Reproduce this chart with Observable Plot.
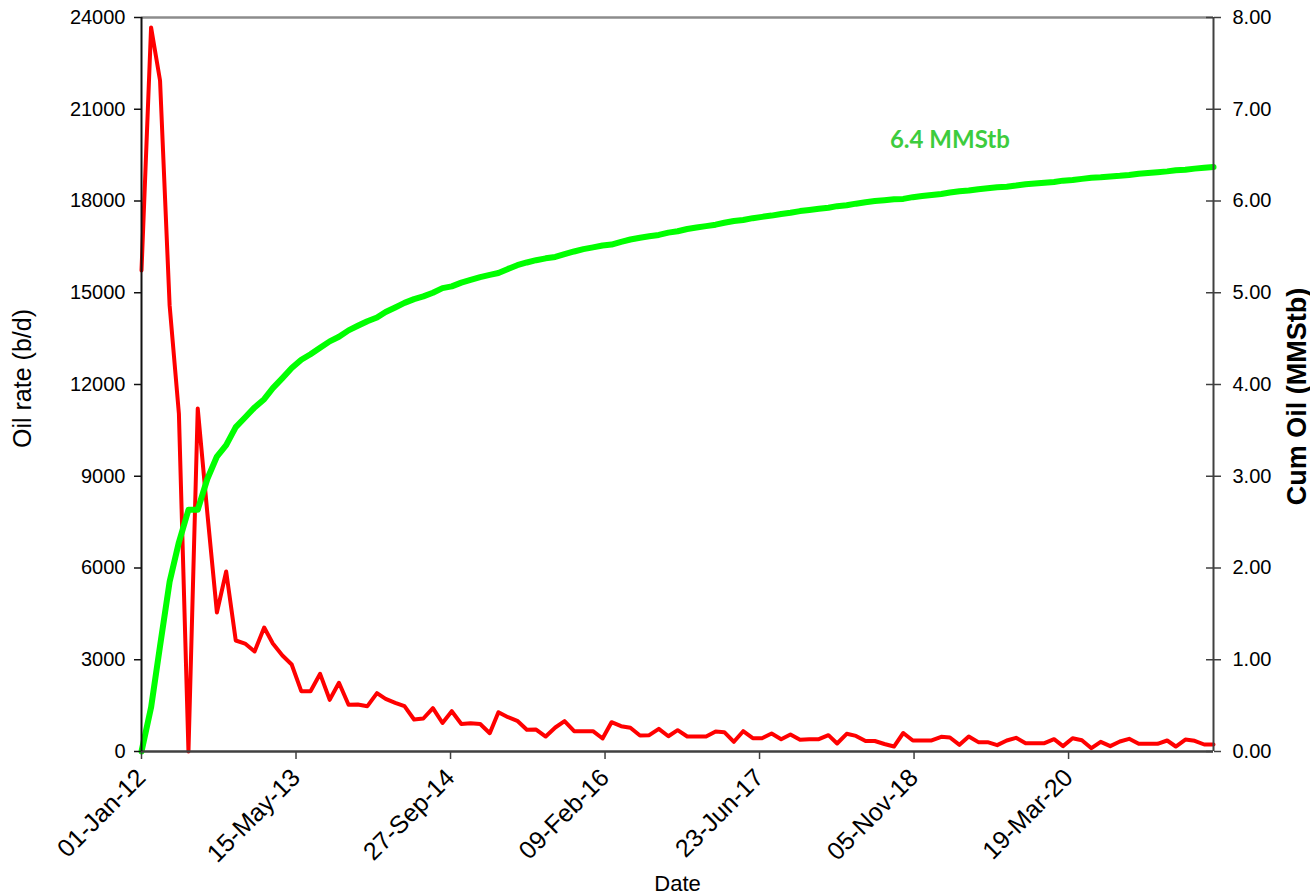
<!DOCTYPE html>
<html><head><meta charset="utf-8">
<script src="https://cdn.jsdelivr.net/npm/d3@7"></script>
<script src="https://cdn.jsdelivr.net/npm/@observablehq/plot@0.6"></script>
<style>body{margin:0;background:#fff}</style>
</head><body><div id="chart"></div>
<script>
// ---- data (monthly, starting Jan 2012) ----
const startDate = "2012-01-01";
const oilRate = [15730, 23675, 21940, 14585, 11050, 0, 11215, 7800, 4545, 5886,
  3630, 3530, 3270, 4055, 3530, 3140, 2845, 1972, 1972, 2540,
  1690, 2246, 1527, 1537, 1482, 1907, 1723, 1592, 1482, 1046,
  1079, 1416, 932, 1318, 899, 921, 899, 598, 1285, 1122,
  1004, 710, 719, 490, 785, 991, 664, 664, 664, 425,
  958, 828, 775, 523, 534, 742, 500, 697, 490, 490,
  490, 654, 631, 317, 664, 435, 435, 589, 402, 556,
  382, 402, 402, 534, 262, 578, 510, 343, 343, 245,
  163, 605, 360, 360, 360, 480, 458, 218, 490, 306,
  306, 207, 360, 448, 273, 273, 273, 402, 175, 435,
  370, 109, 317, 175, 327, 415, 251, 251, 251, 360,
  163, 392, 349, 229, 229];
const cumOil = [0, 0.48, 1.15, 1.85, 2.28, 2.635, 2.635, 2.97, 3.215, 3.34,
  3.535, 3.64, 3.75, 3.84, 3.96, 4.07, 4.18, 4.27, 4.33, 4.40,
  4.47, 4.52, 4.59, 4.64, 4.69, 4.73, 4.79, 4.84, 4.89, 4.93,
  4.96, 5.00, 5.05, 5.07, 5.11, 5.14, 5.17, 5.195, 5.215, 5.26,
  5.30, 5.33, 5.355, 5.375, 5.39, 5.42, 5.45, 5.475, 5.495, 5.515,
  5.525, 5.555, 5.58, 5.60, 5.615, 5.63, 5.655, 5.67, 5.695, 5.711,
  5.726, 5.742, 5.763, 5.782, 5.793, 5.813, 5.827, 5.841, 5.859, 5.872,
  5.890, 5.902, 5.915, 5.927, 5.944, 5.953, 5.971, 5.987, 5.999, 6.009,
  6.018, 6.023, 6.042, 6.054, 6.065, 6.077, 6.093, 6.107, 6.114, 6.129,
  6.139, 6.150, 6.156, 6.168, 6.183, 6.191, 6.200, 6.208, 6.222, 6.228,
  6.241, 6.254, 6.258, 6.268, 6.274, 6.284, 6.298, 6.306, 6.314, 6.323,
  6.335, 6.340, 6.353, 6.363, 6.371];
const xTickDates = ["2012-01-01","2013-05-15","2014-09-27","2016-02-09","2017-06-23","2018-11-05","2020-03-19"];
const xTickLabels = ["01-Jan-12","15-May-13","27-Sep-14","09-Feb-16","23-Jun-17","05-Nov-18","19-Mar-20"];
const rateTicks = [0, 3000, 6000, 9000, 12000, 15000, 18000, 21000, 24000];
const cumTicks = [0, 1, 2, 3, 4, 5, 6, 7, 8];
const annotation = [{text: "6.4 MMStb", date: "2019-03-01", cum: 6.66}];
const labelLeft = "Oil rate (b/d)";
const labelRight = "Cum Oil (MMStb)";
const labelX = "Date";

// ---- build ----
const K = rateTicks[rateTicks.length - 1] / cumTicks[cumTicks.length - 1]; // cum -> rate scale factor
const t0 = new Date(startDate);
const data = oilRate.map((r, i) => ({date: d3.utcMonth.offset(t0, i), rate: r, cum: cumOil[i]}));
const tickMap = new Map(xTickDates.map((d, i) => [+new Date(d), xTickLabels[i]]));

const W = 1310, H = 896, mL = 141, mR = 97, mT = 17, mB = 145;
const innerW = W - mL - mR;
const font = "'Liberation Sans', Arial, sans-serif";

const chart = Plot.plot({
  width: W, height: H,
  marginLeft: mL, marginRight: mR, marginTop: mT, marginBottom: mB,
  style: {fontFamily: font, fontSize: "20px", color: "#000", background: "#fff", overflow: "visible"},
  x: {type: "utc", domain: [data[0].date, data[data.length - 1].date]},
  y: {domain: [rateTicks[0], rateTicks[rateTicks.length - 1]]},
  marks: [
    Plot.ruleY([rateTicks[rateTicks.length - 1]], {stroke: "#8c8c8c", strokeWidth: 2.5}),
    Plot.lineY(data, {x: "date", y: "rate", stroke: "#ff0000", strokeWidth: 4, strokeLinejoin: "round"}),
    Plot.lineY(data, {x: "date", y: d => d.cum * K, stroke: "#00ff00", strokeWidth: 6, strokeLinejoin: "round"}),
    Plot.ruleY([0], {stroke: "#404040", strokeWidth: 2.5}),
    Plot.ruleX([data[0].date], {stroke: "#111", strokeWidth: 2}),
    Plot.ruleX([data[data.length - 1].date], {stroke: "#404040", strokeWidth: 2}),
    Plot.axisY(rateTicks, {anchor: "left", tickSize: 7, tickPadding: 9, tickFormat: d => String(d), label: null, stroke: "#111", strokeWidth: 1.5, fontSize: 20}),
    Plot.axisY(cumTicks.map(v => v * K), {anchor: "right", tickSize: 7, tickPadding: 12, tickFormat: d => (d / K).toFixed(2), label: null, stroke: "#404040", strokeWidth: 1.5, fontSize: 20}),
    Plot.ruleY(cumTicks.map(v => v * K), {stroke: "#404040", strokeWidth: 1.5, insetLeft: innerW - 7}),
    Plot.axisX(xTickDates.map(d => new Date(d)), {tickSize: 8, tickPadding: 14, tickRotate: -45, tickFormat: d => tickMap.get(+d), label: null, stroke: "#404040", strokeWidth: 1.5, fontSize: 25}),
    Plot.text([labelLeft], {frameAnchor: "left", dx: -119, dy: -6, rotate: -90, textAnchor: "middle", fontSize: 25, fill: "#000"}),
    Plot.text([labelRight], {frameAnchor: "right", dx: 84, dy: 12, rotate: -90, textAnchor: "middle", fontSize: 27, fontWeight: "bold", fill: "#000"}),
    Plot.text([labelX], {frameAnchor: "bottom", dy: 139, fontSize: 22, fill: "#000"}),
    Plot.text(annotation, {x: d => new Date(d.date), y: d => d.cum * K, text: "text", fill: "#3dcc3d", fontWeight: "bold", fontSize: 24, fontFamily: "Lato, 'Open Sans', sans-serif"})
  ]
});
document.getElementById("chart").appendChild(chart);
</script>
</body></html>
